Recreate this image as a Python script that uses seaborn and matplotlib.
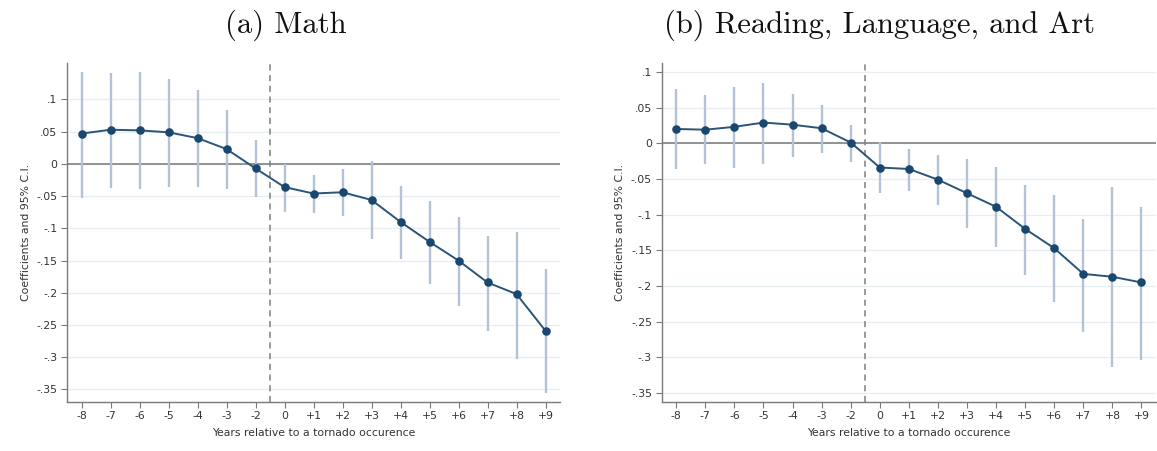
import matplotlib
matplotlib.use("Agg")
import matplotlib.pyplot as plt
import seaborn as sns
import pandas as pd
import numpy as np

# ---- data ----
periods = ["-8", "-7", "-6", "-5", "-4", "-3", "-2", "0", "+1", "+2", "+3",
           "+4", "+5", "+6", "+7", "+8", "+9"]

math_coef = [0.047, 0.053, 0.052, 0.049, 0.040, 0.023, -0.007, -0.036, -0.046,
             -0.044, -0.056, -0.090, -0.121, -0.150, -0.184, -0.202, -0.259]
math_lo = [-0.053, -0.037, -0.039, -0.036, -0.036, -0.039, -0.051, -0.075, -0.076,
           -0.081, -0.117, -0.148, -0.186, -0.220, -0.260, -0.302, -0.355]
math_hi = [0.143, 0.141, 0.143, 0.131, 0.115, 0.084, 0.037, 0.000, -0.018,
           -0.008, 0.004, -0.034, -0.057, -0.082, -0.112, -0.106, -0.163]

read_coef = [0.020, 0.019, 0.023, 0.029, 0.026, 0.021, 0.001, -0.034, -0.036,
             -0.051, -0.070, -0.089, -0.120, -0.147, -0.183, -0.187, -0.195]
read_lo = [-0.036, -0.029, -0.035, -0.029, -0.019, -0.014, -0.026, -0.070, -0.067,
           -0.086, -0.118, -0.146, -0.184, -0.223, -0.264, -0.314, -0.303]
read_hi = [0.076, 0.068, 0.079, 0.085, 0.069, 0.054, 0.026, 0.002, -0.008,
           -0.017, -0.022, -0.033, -0.058, -0.073, -0.106, -0.061, -0.089]

yticks = [0.1, 0.05, 0, -0.05, -0.1, -0.15, -0.2, -0.25, -0.3, -0.35]
ytick_labels = [".1", ".05", "0", "-.05", "-.1", "-.15", "-.2", "-.25", "-.3", "-.35"]

titles = ["(a) Math", "(b) Reading, Language, and Art"]
xlabel = "Years relative to a tornado occurence"
ylabel = "Coefficients and 95% C.I."

# ---- style ----
sns.set_theme(style="white")
plt.rcParams["font.family"] = ["DejaVu Sans"]

NAVY = "#1a476f"
CI_COL = "#b3c3d5"
GRID = "#e6eef0"
AXCOL = "#7a7a7a"

fig = plt.figure(figsize=(11.57, 4.51), dpi=100)
ax_rects = [
    [67 / 1157, 1 - 401.7 / 451, 493 / 1157, 339 / 451],
    [661.7 / 1157, 1 - 401.7 / 451, 494.3 / 1157, 338.4 / 451],
]
ylims = [(-0.369, 0.157), (-0.362, 0.112)]
title_x = [286 / 1157, 880 / 1157]

datasets = [(math_coef, math_lo, math_hi), (read_coef, read_lo, read_hi)]

for i, (coef, lo, hi) in enumerate(datasets):
    ax = fig.add_axes(ax_rects[i])
    df = pd.DataFrame({"idx": np.arange(len(periods)), "coef": coef,
                       "lo": lo, "hi": hi})
    # gridlines
    for yt in yticks:
        ax.axhline(yt, color=GRID, lw=0.9, zorder=0)
    ax.axhline(0, color="#8a8a8a", lw=1.3, zorder=1)
    ax.axvline(6.5, color="#7f7f7f", lw=1.1, ls=(0, (4, 3)), zorder=1)
    ax.vlines(df["idx"], df["lo"], df["hi"], color=CI_COL, lw=1.7, zorder=2)
    sns.lineplot(data=df, x="idx", y="coef", ax=ax, color="#2b5478", lw=1.4,
                 zorder=3, sort=False)
    sns.scatterplot(data=df, x="idx", y="coef", ax=ax, color=NAVY, s=38,
                    edgecolor=NAVY, linewidth=0, zorder=4)
    ax.set_xlim(-0.5, 16.5)
    ax.set_ylim(*ylims[i])
    ax.set_xticks(range(len(periods)))
    ax.set_xticklabels(periods)
    ax.set_yticks(yticks)
    ax.set_yticklabels(ytick_labels)
    ax.tick_params(axis="both", which="both", direction="out", length=4,
                   width=0.8, color=AXCOL, labelsize=7.8, labelcolor="#333333",
                   bottom=True, left=True, pad=3)
    for s in ["top", "right"]:
        ax.spines[s].set_visible(False)
    for s in ["left", "bottom"]:
        ax.spines[s].set_color(AXCOL)
        ax.spines[s].set_linewidth(1.0)
    ax.set_xlabel(xlabel, fontsize=7.8, color="#333333", labelpad=5)
    ax.set_ylabel(ylabel, fontsize=7.8, color="#333333", labelpad=4)
    ax.set_facecolor("white")
    fig.text(title_x[i], 1 - 25 / 451, titles[i], ha="center", va="center",
             fontsize=22, family="cmr10", color="#111111")

fig.savefig("out.png", dpi=100, facecolor="white")
